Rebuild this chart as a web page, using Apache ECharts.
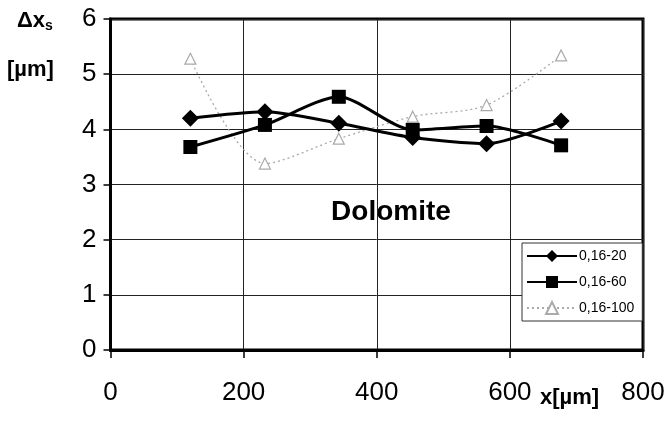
<!DOCTYPE html>
<html>
<head>
<meta charset="utf-8">
<script src="https://cdn.jsdelivr.net/npm/echarts@6/dist/echarts.min.js"></script>
<style>html,body{margin:0;padding:0;background:#fff;}#c{width:670px;height:428px;}</style>
</head>
<body>
<div id="c"></div>
<script>
var xPositions = [120, 232, 343, 454, 565, 677];
var seriesNames = ['0,16-20', '0,16-60', '0,16-100'];
var s20 = [4.20, 4.32, 4.11, 3.85, 3.74, 4.15];
var s60 = [3.68, 4.08, 4.59, 3.99, 4.06, 3.71];
var s100 = [5.28, 3.38, 3.83, 4.23, 4.44, 5.34];
var xTicks = [0, 200, 400, 600, 800];
var yTicks = [0, 1, 2, 3, 4, 5, 6];

function pairs(xs, ys){ return xs.map(function(x,i){ return [x, ys[i]]; }); }

var FONT = 'Liberation Sans, Arial, sans-serif';
var chart = echarts.init(document.getElementById('c'), null, {renderer:'canvas'});
chart.setOption({
  animation: false,
  backgroundColor: '#fff',
  grid: { left: 110.5, right: 27, top: 19, bottom: 78, show: true, borderColor: '#000', borderWidth: 3, backgroundColor: 'transparent' },
  xAxis: {
    type: 'value', min: xTicks[0], max: xTicks[xTicks.length-1], interval: 200,
    axisLine: { show: true, lineStyle: { color: '#000', width: 3 } },
    axisTick: { show: true, inside: false, length: 8, lineStyle: { color: '#000', width: 1.5 } },
    axisLabel: { color: '#000', fontSize: 26, fontFamily: FONT, margin: 30 },
    splitLine: { show: true, lineStyle: { color: '#222', width: 1 } }
  },
  yAxis: {
    type: 'value', min: yTicks[0], max: yTicks[yTicks.length-1], interval: 1,
    axisLine: { show: true, lineStyle: { color: '#000', width: 3 } },
    axisTick: { show: true, inside: false, length: 7, lineStyle: { color: '#000', width: 1.5 } },
    axisLabel: { color: '#000', fontSize: 26, fontFamily: FONT, margin: 14 },
    splitLine: { show: true, lineStyle: { color: '#222', width: 1 } }
  },
  legend: {
    orient: 'vertical', left: 522, top: 243,
    padding: [6, 8, 6, 4], itemGap: 12, itemWidth: 50, itemHeight: 15,
    borderColor: '#333', borderWidth: 1, backgroundColor: '#fff',
    textStyle: { color: '#000', fontSize: 14, fontFamily: FONT, padding: [0,0,0,-3] },
    data: seriesNames
  },
  series: [
    { name: seriesNames[0], type: 'line', smooth: 0.25, data: pairs(xPositions, s20),
      symbol: 'diamond', symbolSize: 17, itemStyle: { color: '#000' }, lineStyle: { color: '#000', width: 3 }, z: 3 },
    { name: seriesNames[1], type: 'line', smooth: 0.25, data: pairs(xPositions, s60),
      symbol: 'rect', symbolSize: 14, itemStyle: { color: '#000' }, lineStyle: { color: '#000', width: 3 }, z: 4 },
    { name: seriesNames[2], type: 'line', smooth: 0.3, data: pairs(xPositions, s100),
      symbol: 'triangle', symbolSize: 11, showAllSymbol: true,
      itemStyle: { color: '#fff', borderColor: '#aaa', borderWidth: 1.2 },
      lineStyle: { color: '#aaa', width: 1.3, type: [2, 3] }, z: 2 }
  ],
  graphic: [
    { type: 'text', left: 17, top: 10, style: { text: '{a|Δx}{b|s}', rich: { a: { fontSize: 22, fontWeight: 'bold', fontFamily: FONT, fill: '#000' }, b: { fontSize: 14, fontWeight: 'bold', fontFamily: FONT, fill: '#000', padding: [10,0,0,0] } } } },
    { type: 'text', left: 7, top: 59, style: { text: '[µm]', fontSize: 22, fontWeight: 'bold', fontFamily: FONT, fill: '#000' } },
    { type: 'text', left: 540, top: 387, style: { text: 'x[µm]', fontSize: 22, fontWeight: 'bold', fontFamily: FONT, fill: '#000' } },
    { type: 'text', x: 391, y: 212, style: { text: 'Dolomite', fontSize: 28, fontWeight: 'bold', fontFamily: FONT, fill: '#000', align: 'center', verticalAlign: 'middle' } }
  ]
});
</script>
</body>
</html>
